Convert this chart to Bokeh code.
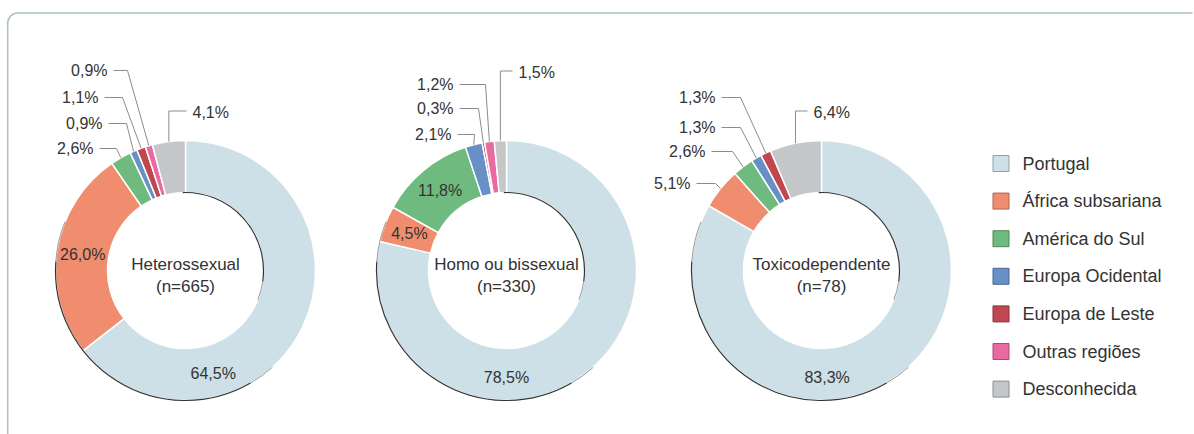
import math
from bokeh.plotting import figure
from bokeh.models import Range1d, ColumnDataSource
from bokeh.core.properties import value
from bokeh.embed import file_html
from bokeh.resources import INLINE

# ---------------- data ----------------
categories = ["Portugal", "África subsariana", "América do Sul", "Europa Ocidental",
              "Europa de Leste", "Outras regiões", "Desconhecida"]
colors = ["#cde0e7", "#f08d6e", "#6fba7e", "#6690c6", "#c0474f", "#e96aa0", "#c5c6c8"]
groups = ["Heterossexual", "Homo ou bissexual", "Toxicodependente"]
group_n = [665, 330, 78]
hetero = [64.5, 26.0, 2.6, 0.9, 1.1, 0.9, 4.1]
homo = [78.5, 4.5, 11.8, 2.1, 0.3, 1.2, 1.5]
toxico = [83.3, 5.1, 2.6, 1.3, 1.3, 0.0, 6.4]
series = [hetero, homo, toxico]

# ---------------- layout ----------------
W, H = 1194, 434
FONT = value("Liberation Sans")
TXT = "#333333"
LEAD = "#8c8c8c"


def py(Y):
    """page Y (pixels from top) -> data y"""
    return H - Y


centers_x = [185, 506, 821]
center_Y = 270
R_OUT, R_IN = 130, 78
R_MID = (R_OUT + R_IN) / 2

# inside labels: category index -> override angle (deg clockwise from top) or None
inside = [{0: 165, 1: None}, {0: 180, 1: None, 2: None}, {0: 177}]
# leader labels: ("L", text_dx, text_dy, elbow_dx) or ("R", text_dx, text_dy)
leaders = [
    {5: ("L", -78, -200, -58), 4: ("L", -87, -173, -63), 3: ("L", -83, -147, -59),
     2: ("L", -92, -122, -69), 6: ("R", 7, -158)},
    {6: ("R", 12, -198), 5: ("L", -53, -186, -21), 4: ("L", -53, -162, -28),
     3: ("L", -55, -136, -32)},
    {6: ("R", -8, -158), 4: ("L", -106, -173, -81), 3: ("L", -106, -143, -81),
     2: ("L", -116, -119, -89), 1: ("L", -131, -87, -106)},
]


def fmt(v):
    return f"{v:.1f}".replace(".", ",") + "%"


def ang(f):
    return math.pi / 2 - 2 * math.pi * f


def darker(hexc, k=0.72):
    r, g, b = (int(hexc[i:i + 2], 16) for i in (1, 3, 5))
    return "#%02x%02x%02x" % (int(r * k), int(g * k), int(b * k))


p = figure(width=W, height=H, x_range=Range1d(0, W), y_range=Range1d(0, H),
           output_backend="svg", toolbar_location=None, min_border=0,
           x_axis_type=None, y_axis_type=None)
p.grid.visible = False
p.outline_line_color = None
p.background_fill_color = "white"
p.border_fill_color = "white"

# frame border (top + left with rounded corner)
BC = "#aabfc4"
bx, by, rc = 7.2, py(12.5), 10
p.line([bx, bx], [0, by - rc], line_color=BC, line_width=1.5)
p.line([bx + rc, W - 2], [by, by], line_color=BC, line_width=1.5)
p.arc(x=[bx + rc], y=[by - rc], radius=rc, start_angle=math.pi / 2, end_angle=math.pi,
      line_color=BC, line_width=1.5)

for gi, vals in enumerate(series):
    cx, cy = centers_x[gi], py(center_Y)
    total = sum(vals)
    xs, ys, sa, ea, fc = [], [], [], [], []
    cum = 0.0
    mids = []
    for i, v in enumerate(vals):
        s = cum / total
        e = (cum + v) / total
        cum += v
        mids.append((s + e) / 2)
        if v <= 0:
            continue
        xs.append(cx); ys.append(cy)
        sa.append(ang(e)); ea.append(ang(s)); fc.append(colors[i])
    src = ColumnDataSource(dict(x=xs, y=ys, sa=sa, ea=ea, fc=fc))
    p.annular_wedge(x="x", y="y", inner_radius=R_IN, outer_radius=R_OUT,
                    start_angle="sa", end_angle="ea", fill_color="fc",
                    line_color="white", line_width=1.5, source=src)

    # shading rims
    d = math.radians
    p.arc(x=[cx], y=[cy], radius=R_OUT, start_angle=d(176), end_angle=d(300),
          line_color="#1e1e1e", line_width=1.2, line_alpha=0.9)
    p.arc(x=[cx], y=[cy], radius=R_OUT, start_angle=d(158), end_angle=d(176),
          line_color="#1e1e1e", line_width=1.0, line_alpha=0.45)
    p.arc(x=[cx], y=[cy], radius=R_OUT, start_angle=d(300), end_angle=d(312),
          line_color="#1e1e1e", line_width=1.0, line_alpha=0.45)
    p.arc(x=[cx], y=[cy], radius=R_IN, start_angle=d(-8), end_angle=d(92),
          line_color="#1e1e1e", line_width=1.2, line_alpha=0.9)
    p.arc(x=[cx], y=[cy], radius=R_IN, start_angle=d(-22), end_angle=d(-8),
          line_color="#1e1e1e", line_width=1.0, line_alpha=0.45)

    # inside labels
    for i, ov in inside[gi].items():
        if ov is None:
            phi = ang(mids[i]); r = R_MID
            tx, ty = cx + r * math.cos(phi), cy + r * math.sin(phi)
        else:
            th = math.radians(ov); r = 107
            tx, ty = cx + r * math.sin(th), cy + r * math.cos(th)
        p.text(x=[tx], y=[ty], text=[fmt(vals[i])], text_font=FONT, text_font_size="16px",
               text_color=TXT, text_align="center", text_baseline="middle")

    # leader labels
    for i, spec in leaders[gi].items():
        phi = ang(mids[i])
        ex0, ey0 = cx + R_OUT * math.cos(phi), cy + R_OUT * math.sin(phi)
        tY = py(center_Y + spec[2])
        tX = cx + spec[1]
        if spec[0] == "L":
            elx = cx + spec[3]
            p.line([tX + 6, elx, ex0], [tY, tY, ey0], line_color=LEAD, line_width=1)
            p.text(x=[tX], y=[tY], text=[fmt(vals[i])], text_font=FONT, text_font_size="16px",
                   text_color=TXT, text_align="right", text_baseline="middle")
        else:
            p.line([ex0, ex0, tX - 6], [ey0, tY + 1.5, tY + 1.5], line_color=LEAD, line_width=1)
            p.text(x=[tX], y=[tY], text=[fmt(vals[i])], text_font=FONT, text_font_size="16px",
                   text_color=TXT, text_align="left", text_baseline="middle")

    # centre titles
    p.text(x=[cx], y=[py(264)], text=[groups[gi]], text_font=FONT, text_font_size="17px",
           text_color=TXT, text_align="center", text_baseline="middle")
    p.text(x=[cx], y=[py(286)], text=[f"(n={group_n[gi]})"], text_font=FONT,
           text_font_size="17px", text_color=TXT, text_align="center", text_baseline="middle")

# legend
for i, c in enumerate(categories):
    yc = py(163 + i * 37.6)
    p.rect(x=[1000.5], y=[yc], width=16, height=16, fill_color=colors[i],
           line_color=darker(colors[i]), line_width=1)
    p.text(x=[1022], y=[yc], text=[c], text_font=FONT, text_font_size="18px",
           text_color=TXT, text_align="left", text_baseline="middle")

open("out.html", "w").write(file_html(p, INLINE))
